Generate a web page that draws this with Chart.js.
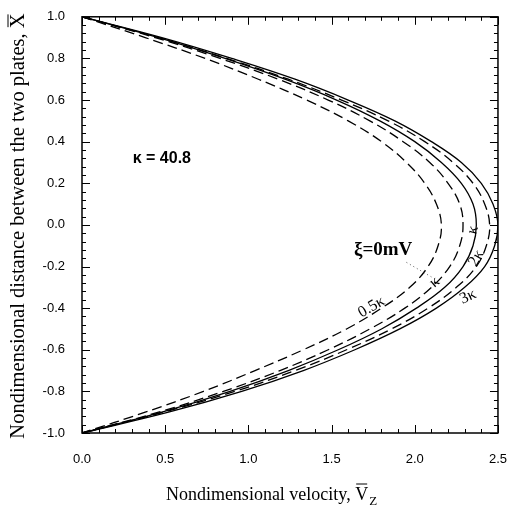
<!DOCTYPE html>
<html>
<head>
<meta charset="utf-8">
<script src="https://cdn.jsdelivr.net/npm/chart.js@4.4.0/dist/chart.umd.min.js"></script>
<style>
  html,body{margin:0;padding:0;background:#fff;}
  #wrap{width:518px;height:511px;}
</style>
</head>
<body>
<div id="wrap"><canvas id="chart" width="518" height="511"></canvas></div>
<script>
// nondimensional distance between plates (y axis)
const xBar = [1.0,0.9,0.8,0.7,0.6,0.5,0.4,0.3,0.2,0.1,0.0,-0.1,-0.2,-0.3,-0.4,-0.5,-0.6,-0.7,-0.8,-0.9,-1.0];

// nondimensional velocity for each curve (outermost to innermost)
const v3k    = [0,0.48,0.90,1.28,1.60,1.88,2.10,2.28,2.40,2.47,2.50,2.48,2.42,2.30,2.13,1.91,1.64,1.33,0.96,0.52,0];
const v2k    = [0,0.46,0.87,1.24,1.56,1.84,2.06,2.23,2.35,2.42,2.45,2.43,2.37,2.25,2.08,1.86,1.59,1.28,0.92,0.49,0];
const v1k    = [0,0.46,0.86,1.22,1.53,1.79,2.00,2.16,2.28,2.35,2.37,2.35,2.29,2.18,2.01,1.80,1.54,1.24,0.89,0.48,0];
const vZeta0 = [0,0.44,0.83,1.18,1.48,1.73,1.93,2.09,2.20,2.27,2.29,2.27,2.21,2.10,1.94,1.73,1.48,1.19,0.85,0.46,0];
const vHalfK = [0,0.38,0.74,1.06,1.35,1.60,1.80,1.95,2.06,2.13,2.16,2.14,2.08,1.97,1.80,1.59,1.33,1.04,0.73,0.38,0];

const xTicks = [0,0.5,1.0,1.5,2.0,2.5];
const yTicks = [-1.0,-0.8,-0.6,-0.4,-0.2,0.0,0.2,0.4,0.6,0.8,1.0];

const curves = [
  {data: v3k, dash: []},
  {data: v2k, dash: [10,5]},
  {data: v1k, dash: []},
  {data: vZeta0, dash: [10,5]},
  {data: vHalfK, dash: [10,5]}
];

// curve labels, placed in data units [velocity, distance, angle deg]
const hand = '16px "Liberation Serif"';
const notes = [
  {text:'0.5\u03BA', v:1.74, x:-0.395, rot:-30, font:hand},
  {text:'\u03BA',    v:2.12, x:-0.275, rot:-40, font:hand},
  {text:'\u03BA',    v:2.35, x:-0.025, rot:-75, font:hand},
  {text:'2\u03BA',   v:2.37, x:-0.16,  rot:-60, font:hand},
  {text:'3\u03BA',   v:2.32, x:-0.345, rot:-25, font:hand},
  {text:'\u03BE=0mV', v:1.81, x:-0.12, rot:0, font:'bold 19px "Liberation Serif"'},
  {text:'\u03BA = 40.8', v:0.48, x:0.32, rot:0, font:'bold 16px "Liberation Sans"'}
];

const L = 82, T = 13, R = 505, B = 433;

const $ = (id) => document.getElementById(id);

const decor = {
  id: 'decor',
  afterDraw(chart){
    const ctx = chart.ctx, xs = chart.scales.x, ys = chart.scales.y;
    const a = chart.chartArea;
    ctx.save();
    ctx.strokeStyle = '#000';
    ctx.lineWidth = 1.5;
    ctx.strokeRect(a.left, a.top, a.right - a.left, a.bottom - a.top);

    // ticks pointing inward on all four sides
    ctx.lineWidth = 1;
    const tick = (x1,y1,x2,y2) => { ctx.beginPath(); ctx.moveTo(x1,y1); ctx.lineTo(x2,y2); ctx.stroke(); };
    for(let i = 0; i <= 25; i++){
      const v = i/10, px = Math.round(xs.getPixelForValue(v)) + 0.5;
      const len = i % 5 === 0 ? 8 : 4;
      tick(px, a.bottom, px, a.bottom - len);
      tick(px, a.top, px, a.top + len);
    }
    for(let i = 0; i <= 50; i++){
      const v = -1 + i*0.04, py = Math.round(ys.getPixelForValue(v)) + 0.5;
      const len = i % 5 === 0 ? 8 : 4;
      tick(a.left, py, a.left + len, py);
      tick(a.right, py, a.right - len, py);
    }

    // axis titles
    ctx.fillStyle = '#000';
    ctx.textBaseline = 'alphabetic';
    ctx.font = '20.5px "Liberation Serif"';
    const yt = 'Nondimensional distance between the two plates, X';
    ctx.save();
    ctx.translate(24, 226);
    ctx.rotate(-Math.PI/2);
    const yw = ctx.measureText(yt).width;
    ctx.fillText(yt, -yw/2, 0);
    const xw = ctx.measureText('X').width;
    tick(yw/2 - xw + 1, -16, yw/2 - 1, -16);
    ctx.restore();

    ctx.font = '18px "Liberation Serif"';
    const xt = 'Nondimensional velocity, V';
    const w1 = ctx.measureText(xt).width;
    ctx.font = '13px "Liberation Serif"';
    const w2 = ctx.measureText('Z').width;
    const sx = 271 - (w1 + w2)/2;
    ctx.font = '18px "Liberation Serif"';
    ctx.fillText(xt, sx, 500);
    const vw = ctx.measureText('V').width;
    tick(sx + w1 - vw + 1, 484, sx + w1 - 1, 484);
    ctx.font = '13px "Liberation Serif"';
    ctx.fillText('Z', sx + w1 + 1, 505);

    // curve labels
    ctx.textAlign = 'center';
    ctx.textBaseline = 'middle';
    notes.forEach(n => {
      ctx.save();
      ctx.translate(xs.getPixelForValue(n.v), ys.getPixelForValue(n.x));
      ctx.rotate(n.rot*Math.PI/180);
      ctx.font = n.font;
      ctx.fillText(n.text, 0, 0);
      ctx.restore();
    });

    // dotted leader from the zeta label
    ctx.setLineDash([1,3]);
    ctx.strokeStyle = '#555';
    tick(xs.getPixelForValue(1.95), ys.getPixelForValue(-0.18), xs.getPixelForValue(2.1), ys.getPixelForValue(-0.25));
    ctx.restore();
  }
};

new Chart($('chart'), {
  type: 'scatter',
  data: {
    datasets: curves.map(c => ({
      data: c.data.map((v,i) => ({x: v, y: xBar[i]})),
      showLine: true,
      borderColor: '#000',
      borderWidth: 1.3,
      borderDash: c.dash,
      pointRadius: 0,
      tension: 0.4,
      fill: false
    }))
  },
  options: {
    responsive: false,
    animation: false,
    layout: {padding: {left: 0, top: T, right: 518 - R, bottom: 0}},
    plugins: {legend: {display: false}, tooltip: {enabled: false}},
    scales: {
      x: {
        type: 'linear', min: 0, max: 2.5,
        afterBuildTicks: s => { s.ticks = xTicks.map(v => ({value: v})); },
        afterFit: s => { s.height = 511 - B; },
        grid: {display: false},
        border: {display: false},
        ticks: {padding: 11, color: '#000', font: {family: '"Liberation Sans"', size: 13}, callback: v => v.toFixed(1), maxRotation: 0}
      },
      y: {
        type: 'linear', min: -1, max: 1,
        afterBuildTicks: s => { s.ticks = yTicks.map(v => ({value: v})); },
        afterFit: s => { s.width = L; },
        grid: {display: false},
        border: {display: false},
        ticks: {padding: 9, color: '#000', font: {family: '"Liberation Sans"', size: 13}, callback: v => v.toFixed(1)}
      }
    }
  },
  plugins: [decor]
});
</script>
</body>
</html>
